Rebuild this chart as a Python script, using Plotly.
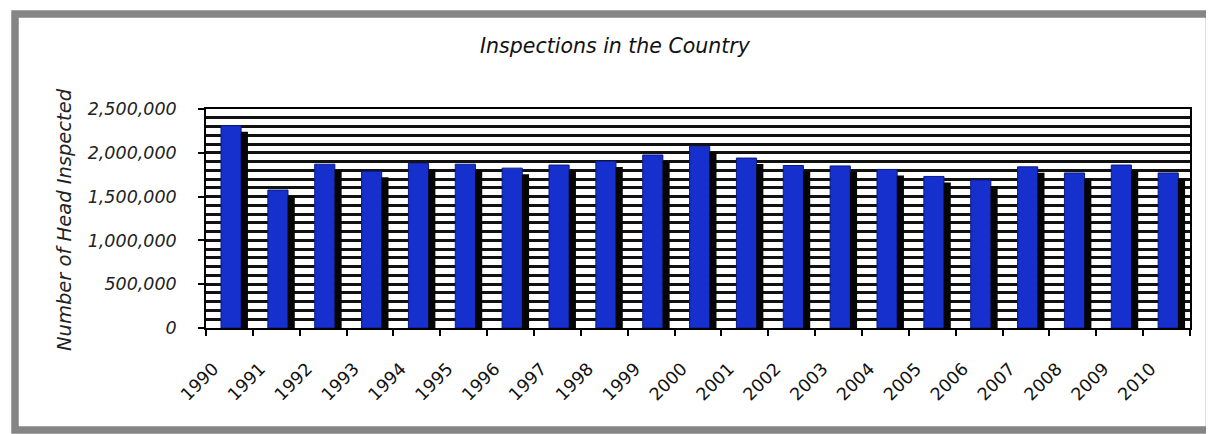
import plotly.graph_objects as go

# ---- data ----
years = [str(y) for y in range(1990, 2011)]
head_inspected = [2310000, 1575000, 1870000, 1790000, 1880000, 1870000, 1825000,
                  1860000, 1905000, 1975000, 2075000, 1940000, 1855000, 1850000,
                  1810000, 1730000, 1690000, 1840000, 1770000, 1860000, 1770000]
y_ticks = [0, 500000, 1000000, 1500000, 2000000, 2500000]
y_tick_text = ["0", "500,000", "1,000,000", "1,500,000", "2,000,000", "2,500,000"]

title_text = "Inspections in the Country"
y_title = "Number of Head Inspected"

# ---- layout geometry (screen pixels; page body has an 8px margin) ----
OFF = 8
SW, SH = 1214, 434
W, H = SW - OFF, SH - OFF
PL, PR, PT, PB = 206, 1190, 109, 328          # plot area on screen
pw, ph = PR - PL, PB - PT
YMAX = 2500000
SHADOW_DROP_PX = 6
drop = SHADOW_DROP_PX / ph * YMAX

def sx(px):  # screen x -> paper
    return (px - PL) / pw

def sy(py):  # screen y -> paper
    return (PB - py) / ph

font_main = "DejaVu Sans, Verdana, sans-serif"

fig = go.Figure()

# 3D side face (dark) drawn on a shifted overlay axis
fig.add_trace(go.Bar(
    x=years, y=head_inspected, yaxis="y2",
    marker=dict(color="#050505", line=dict(width=0)),
    width=0.15, offset=0.245, hoverinfo="skip", showlegend=False,
))
# front face (blue)
fig.add_trace(go.Bar(
    x=years, y=head_inspected,
    marker=dict(color="#1530cc", line=dict(color="#0b1a80", width=1)),
    width=0.43, offset=-0.18, showlegend=False,
))

fig.update_layout(
    width=W, height=H,
    margin=dict(l=PL - OFF, r=SW - PR, t=PT - OFF, b=SH - PB, pad=0,
                autoexpand=False),
    paper_bgcolor="white", plot_bgcolor="white",
    barmode="overlay",
    title=dict(text=title_text, x=(615 - OFF) / W, xref="container",
               xanchor="center", y=1 - (46 - OFF) / H, yref="container",
               yanchor="middle",
               font=dict(family=font_main, size=20.5, color="#111",
                         style="italic")),
    xaxis=dict(
        type="category", tickson="boundaries", ticks="outside", ticklen=6,
        tickcolor="black", tickwidth=1.5, showline=True, linecolor="black",
        linewidth=1.5, mirror=True, tickangle=-45, ticklabelshift=-16,
        ticklabelstandoff=22,
        tickfont=dict(family=font_main, size=17.5, color="#111"),
        showgrid=False, range=[-0.5, len(years) - 0.5], automargin=False,
    ),
    yaxis=dict(
        range=[0, YMAX], tickvals=y_ticks, ticktext=y_tick_text,
        ticks="outside", ticklen=6, tickcolor="black", tickwidth=1.5,
        showline=True, linecolor="black", linewidth=1.5, mirror=True,
        tickfont=dict(family=font_main, size=17.5, color="#222",
                      style="italic"),
        ticklabelstandoff=18, automargin=False,
        showgrid=True, gridcolor="#111", gridwidth=2.5,
        minor=dict(dtick=100000, showgrid=True, gridcolor="#111",
                   gridwidth=2.5, ticks=""),
        zeroline=False,
    ),
    yaxis2=dict(overlaying="y", range=[drop, YMAX + drop], visible=False,
                showgrid=False),
    annotations=[dict(
        text=y_title, textangle=-90, xref="paper", yref="paper",
        x=sx(64), y=sy(220), showarrow=False,
        xanchor="center", yanchor="middle",
        font=dict(family=font_main, size=19.5, color="#222", style="italic"),
    )],
    shapes=[
        # outer gray frame
        dict(type="rect", xref="paper", yref="paper", layer="above",
             x0=sx(15), x1=sx(1209.5), y0=sy(430), y1=sy(14),
             line=dict(color="#858585", width=7.5),
             fillcolor="rgba(0,0,0,0)"),
    ],
)

fig.write_html("out.html")
